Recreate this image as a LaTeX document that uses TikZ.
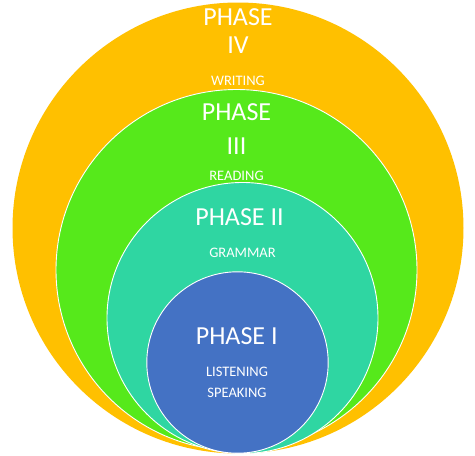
\documentclass[tikz,border=0pt]{standalone}
\usepackage{fontspec}
\setmainfont{Carlito}
\definecolor{phorange}{HTML}{FFC000}
\definecolor{phgreen}{HTML}{56E91B}
\definecolor{phteal}{HTML}{2FD6A2}
\definecolor{phblue}{HTML}{4472C4}
\tikzset{
  ring/.style={draw=white, line width=0.9pt},
  bigtxt/.style={text=white, anchor=base, inner sep=0pt, font=\fontsize{26}{31}\selectfont},
  smalltxt/.style={text=white, anchor=base, inner sep=0pt, font=\fontsize{14.5}{17}\selectfont},
}
\begin{document}
\begin{tikzpicture}[x=1pt, y=-1pt]
  \fill[white] (0,0) rectangle (475,456);
  \useasboundingbox (0,0) rectangle (475,456);
  \fill[phorange] (238,228) circle (225.5);
  \filldraw[ring, fill=phgreen] (236.5,270) circle (180.5);
  \filldraw[ring, fill=phteal] (242.5,318) circle (135.5);
  \filldraw[ring, fill=phblue] (237.5,362.5) circle (90.7);

  \node[bigtxt] (p4a) at (238,25) {PHASE};
  \node[bigtxt] (p4b) at (238,53.3) {IV};
  \node[smalltxt] (w) at (238,85) {WRITING};

  \node[bigtxt] (p3a) at (236.5,120) {PHASE};
  \node[bigtxt] (p3b) at (236.5,154) {III};
  \node[smalltxt] (r) at (236.5,180.7) {READING};

  \node[bigtxt] (p2) at (239.5,225.7) {PHASE II};
  \node[smalltxt] (g) at (242.5,257.7) {GRAMMAR};

  \node[bigtxt] (p1) at (236.7,344.3) {PHASE I};
  \node[smalltxt] (l) at (237,376.7) {LISTENING};
  \node[smalltxt] (s) at (237,397.7) {SPEAKING};
\end{tikzpicture}
\end{document}
